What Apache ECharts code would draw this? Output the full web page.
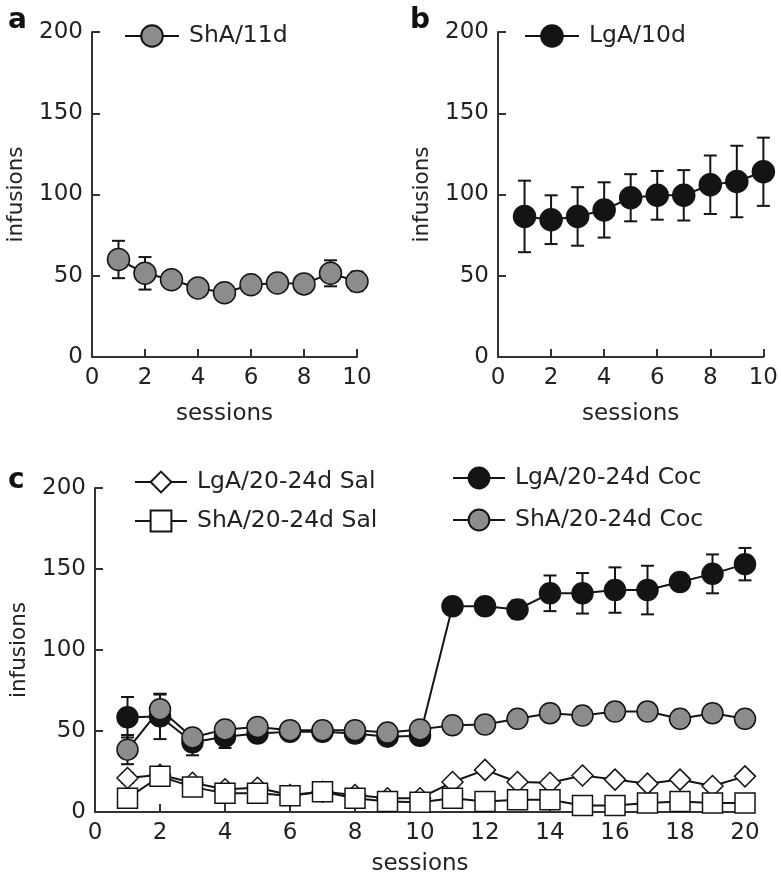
<!DOCTYPE html>
<html>
<head>
<meta charset="utf-8">
<script src="https://cdn.jsdelivr.net/npm/echarts@6/dist/echarts.min.js"></script>
<style>
html, body { margin: 0; padding: 0; background: #fff; }
#main { width: 781px; height: 883px; }
</style>
</head>
<body>
<div id="main"></div>
<script>
// sessions
var sess10 = [1, 2, 3, 4, 5, 6, 7, 8, 9, 10];
var sess20 = [1, 2, 3, 4, 5, 6, 7, 8, 9, 10, 11, 12, 13, 14, 15, 16, 17, 18, 19, 20];

// panel a: ShA/11d
var shaMean = [60, 51.5, 47.5, 42.5, 39.5, 44.5, 45.5, 45, 51.5, 46.5];
var shaErr  = [11.5, 10, 3, 3, 3, 3, 3, 5, 8, 6];

// panel b: LgA/10d
var lgaMean = [86.5, 84.5, 86.5, 90.5, 98, 99.5, 99.5, 106, 108, 114];
var lgaErr  = [22, 15, 18, 17, 14.5, 15, 15.5, 18, 22, 21];

// panel c
var lgaSalMean = [21, 23, 18, 14, 15, 10.5, 12.5, 10.5, 8.5, 8.5, 18.5, 26, 18.5, 18, 22.5, 20, 17.5, 20, 16, 22];
var lgaSalErr  = [3, 4, 2, 2, 2, 2, 2, 2, 2, 2, 2, 2, 2, 2, 2, 2, 2, 2, 2, 2];
var shaSalMean = [8.5, 22, 15.5, 11.5, 11.5, 10, 12.5, 8.5, 6.5, 6, 8.5, 6.5, 7.5, 7.5, 4, 4, 5.5, 6.5, 5.5, 5.5];
var shaSalErr  = [2, 3, 3, 5, 3, 3, 3, 3, 2, 2, 2, 2, 2, 2, 2, 2, 2, 2, 2, 2];
var lgaCocMean = [58.5, 59, 43, 46.5, 48.5, 49.5, 49.5, 48.5, 46.5, 47, 127, 127, 125, 135, 135, 137, 137, 142, 147, 153];
var lgaCocErr  = [12.5, 14, 8, 7, 3, 3, 3, 3, 3, 3, 3, 3, 5.5, 11, 12.5, 14, 15, 5, 12, 10];
var shaCocMean = [38.5, 63.5, 46, 51, 52.5, 50.5, 50.5, 50.5, 49, 51, 53.5, 54, 57.5, 61, 59.5, 62, 62, 57.5, 61, 57.5];
var shaCocErr  = [9, 9, 3, 3, 3, 3, 3, 3, 3, 3, 3, 3, 3, 3, 3, 3, 3, 3, 3, 3];

var FONT = 'DejaVu Sans';
var INK = '#141414';
var GRAY = '#8c8c8c';

function pairs(xs, ys) {
    return xs.map(function (x, i) { return [x, ys[i]]; });
}

function xAxisFor(idx, max, gap) {
    return {
        type: 'value', gridIndex: idx, min: 0, max: max, interval: 2,
        name: 'sessions', nameLocation: 'middle', nameGap: gap,
        nameTextStyle: { fontFamily: FONT, fontSize: 23, color: '#222' },
        axisLine: { lineStyle: { color: '#333', width: 2 } },
        axisTick: { inside: true, length: 8, lineStyle: { color: '#333', width: 2 } },
        axisLabel: { fontFamily: FONT, fontSize: 23, color: '#222', margin: 10 },
        splitLine: { show: false }
    };
}

function yAxisFor(idx) {
    return {
        type: 'value', gridIndex: idx, min: 0, max: 200, interval: 50,
        name: 'infusions', nameLocation: 'middle', nameGap: 65,
        nameTextStyle: { fontFamily: FONT, fontSize: 21.5, color: '#222' },
        axisLine: { show: true, lineStyle: { color: '#333', width: 2 } },
        axisTick: { show: true, inside: true, length: 8, lineStyle: { color: '#333', width: 2 } },
        axisLabel: { fontFamily: FONT, fontSize: 23, color: '#222', margin: 9 },
        splitLine: { show: false }
    };
}

function lineSeries(name, idx, xs, ys, symbol, fill, size, z) {
    return {
        type: 'line', name: name, xAxisIndex: idx, yAxisIndex: idx,
        data: pairs(xs, ys),
        symbol: symbol, symbolSize: size, z: z,
        itemStyle: { color: fill, borderColor: INK, borderWidth: 1.5 },
        lineStyle: { color: INK, width: 2 },
        emphasis: { disabled: true },
        animation: false
    };
}

// error bars drawn through the axis scales
function errSeries(idx, xs, mean, err) {
    return {
        type: 'custom', xAxisIndex: idx, yAxisIndex: idx, z: 1, silent: true,
        data: xs.map(function (x, i) { return [x, mean[i] - err[i], mean[i] + err[i]]; }),
        encode: { x: 0, y: [1, 2] },
        renderItem: function (params, api) {
            var lo = api.coord([api.value(0), api.value(1)]);
            var hi = api.coord([api.value(0), api.value(2)]);
            var w = 6.5;
            var st = { stroke: INK, lineWidth: 2 };
            return {
                type: 'group',
                children: [
                    { type: 'line', shape: { x1: hi[0], y1: hi[1], x2: lo[0], y2: lo[1] }, style: st },
                    { type: 'line', shape: { x1: hi[0] - w, y1: hi[1], x2: hi[0] + w, y2: hi[1] }, style: st },
                    { type: 'line', shape: { x1: lo[0] - w, y1: lo[1], x2: lo[0] + w, y2: lo[1] }, style: st }
                ]
            };
        },
        animation: false
    };
}

var legendText = { fontFamily: FONT, fontSize: 23.5, color: '#222', padding: [0, 0, 0, 5] };
var letterStyle = { fontFamily: FONT, fontSize: 28, fontWeight: 'bold', color: '#111' };

var chart = echarts.init(document.getElementById('main'));

chart.setOption({
    backgroundColor: '#fff',
    animation: false,
    title: [
        { text: 'a', left: 3, top: 2, textStyle: letterStyle },
        { text: 'b', left: 405, top: 2, textStyle: letterStyle },
        { text: 'c', left: 3, top: 462, textStyle: letterStyle }
    ],
    grid: [
        { left: 92, top: 32, width: 265, height: 325 },
        { left: 498, top: 32, width: 267, height: 325 },
        { left: 93, top: 488, width: 652, height: 324 }
    ],
    legend: [
        { data: ['ShA/11d'], left: 119, top: 19, itemWidth: 54, itemHeight: 27, textStyle: legendText },
        { data: ['LgA/10d'], left: 519, top: 19, itemWidth: 54, itemHeight: 27, textStyle: legendText },
        { data: ['LgA/20-24d Sal', 'ShA/20-24d Sal'], orient: 'vertical', left: 129, top: 465,
          itemWidth: 52, itemHeight: 26, itemGap: 15, textStyle: legendText },
        { data: ['LgA/20-24d Coc', 'ShA/20-24d Coc'], orient: 'vertical', left: 447, top: 461,
          itemWidth: 52, itemHeight: 26, itemGap: 18, textStyle: legendText }
    ],
    xAxis: [xAxisFor(0, 10, 46), xAxisFor(1, 10, 46), xAxisFor(2, 20, 41)],
    yAxis: [yAxisFor(0), yAxisFor(1), yAxisFor(2)],
    series: [
        errSeries(0, sess10, shaMean, shaErr),
        lineSeries('ShA/11d', 0, sess10, shaMean, 'circle', GRAY, 22, 3),
        errSeries(1, sess10, lgaMean, lgaErr),
        lineSeries('LgA/10d', 1, sess10, lgaMean, 'circle', INK, 22, 3),

        errSeries(2, sess20, lgaSalMean, lgaSalErr),
        errSeries(2, sess20, shaSalMean, shaSalErr),
        errSeries(2, sess20, lgaCocMean, lgaCocErr),
        errSeries(2, sess20, shaCocMean, shaCocErr),
        lineSeries('LgA/20-24d Sal', 2, sess20, lgaSalMean, 'diamond', '#fff', 21, 2),
        lineSeries('ShA/20-24d Sal', 2, sess20, shaSalMean, 'rect', '#fff', 20, 3),
        lineSeries('LgA/20-24d Coc', 2, sess20, lgaCocMean, 'circle', INK, 21, 4),
        lineSeries('ShA/20-24d Coc', 2, sess20, shaCocMean, 'circle', GRAY, 21, 5)
    ]
});
</script>
</body>
</html>
